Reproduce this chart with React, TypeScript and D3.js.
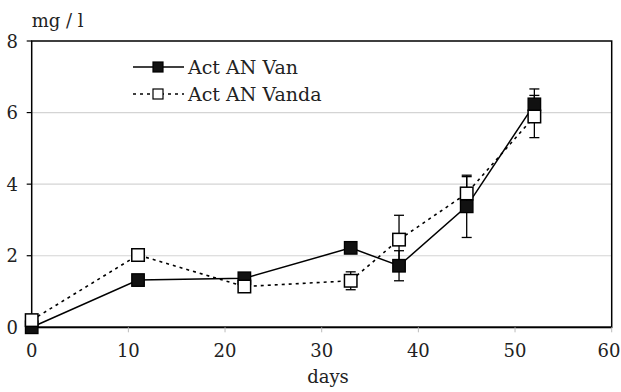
import React from "react";
import * as d3 from "d3";

const days = [0, 11, 22, 33, 38, 45, 52];
const vanValues = [0, 1.32, 1.37, 2.22, 1.72, 3.38, 6.23];
const vanErrors = [0, 0.05, 0.08, 0.12, 0.42, 0.87, 0.43];
const vandaValues = [0.2, 2.02, 1.14, 1.3, 2.45, 3.74, 5.89];
const vandaErrors = [0, 0.1, 0.05, 0.25, 0.68, 0.47, 0.59];
const xTicks = [0, 10, 20, 30, 40, 50, 60];
const yTicks = [0, 2, 4, 6, 8];
const seriesNames = ["Act AN Van", "Act AN Vanda"];

const W = 621;
const H = 392;
const left = 31.7;
const right = 611.7;
const top = 41;
const bottom = 327.3;
const FONT = "DejaVu Serif";
const txt = { fontFamily: FONT, fill: "#222" } as const;

export default function App() {
  const x = d3.scaleLinear().domain([0, 60]).range([left, right]);
  const y = d3.scaleLinear().domain([0, 8]).range([bottom, top]);
  const line = d3
    .line<[number, number]>()
    .x((d) => x(d[0]))
    .y((d) => y(d[1]));
  const vanPts: [number, number][] = days.map((d, i) => [d, vanValues[i]]);
  const vandaPts: [number, number][] = days.map((d, i) => [d, vandaValues[i]]);
  const ms = 12.5;
  const cap = 5;

  const errBars = (vals: number[], errs: number[], key: string) =>
    days.map((d, i) =>
      errs[i] > 0 ? (
        <g key={key + i} stroke="#000" strokeWidth={1.3}>
          <line x1={x(d)} x2={x(d)} y1={y(vals[i] - errs[i])} y2={y(vals[i] + errs[i])} />
          <line x1={x(d) - cap} x2={x(d) + cap} y1={y(vals[i] - errs[i])} y2={y(vals[i] - errs[i])} />
          <line x1={x(d) - cap} x2={x(d) + cap} y1={y(vals[i] + errs[i])} y2={y(vals[i] + errs[i])} />
        </g>
      ) : null
    );

  return (
    <svg width={W} height={H} style={{ position: "absolute", left: 0, top: 0, background: "#fff" }}>
      <rect x={0} y={0} width={W} height={H} fill="#fff" />
      {yTicks
        .filter((t) => t > 0 && t < 8)
        .map((t) => (
          <line key={"g" + t} x1={left} x2={right} y1={y(t)} y2={y(t)} stroke="#d4d4d4" strokeWidth={1.2} />
        ))}
      <rect x={left} y={top} width={right - left} height={bottom - top} fill="none" stroke="#000" strokeWidth={1.5} />
      <line x1={left} x2={right} y1={y(0)} y2={y(0)} stroke="#000" strokeWidth={1.8} />
      {yTicks.map((t) => (
        <g key={"yt" + t}>
          <line x1={left - 5} x2={left} y1={y(t)} y2={y(t)} stroke="#000" strokeWidth={1.2} />
          <text x={18} y={y(t) + 6.5} textAnchor="end" fontSize={18} style={txt}>
            {t}
          </text>
        </g>
      ))}
      {xTicks.map((t) => (
        <g key={"xt" + t}>
          <line x1={x(t)} x2={x(t)} y1={bottom} y2={bottom + 5} stroke="#bbb" strokeWidth={1} />
          <text x={Math.min(x(t), 609)} y={357} textAnchor="middle" fontSize={18} style={txt}>
            {t}
          </text>
        </g>
      ))}
      <text x={left} y={27} fontSize={18} style={txt}>
        mg / l
      </text>
      <text x={328} y={383} textAnchor="middle" fontSize={18} style={txt}>
        days
      </text>
      <path d={line(vanPts) || ""} fill="none" stroke="#000" strokeWidth={1.5} />
      <path d={line(vandaPts) || ""} fill="none" stroke="#000" strokeWidth={1.6} strokeDasharray="3,4" />
      {errBars(vanValues, vanErrors, "ve")}
      {errBars(vandaValues, vandaErrors, "vd")}
      {vanPts.map((p, i) => (
        <rect key={"vm" + i} x={x(p[0]) - ms / 2} y={y(p[1]) - ms / 2} width={ms} height={ms} fill="#111" stroke="#000" strokeWidth={1.3} />
      ))}
      {vandaPts.map((p, i) => (
        <rect key={"dm" + i} x={x(p[0]) - ms / 2} y={y(p[1]) - ms / 2} width={ms} height={ms} fill="#fff" stroke="#000" strokeWidth={1.5} />
      ))}
      <line x1={133} x2={184} y1={67} y2={67} stroke="#000" strokeWidth={1.5} />
      <rect x={153} y={62} width={10} height={10} fill="#111" stroke="#000" strokeWidth={1.2} />
      <text x={188} y={74} fontSize={19} style={txt}>
        {seriesNames[0]}
      </text>
      <line x1={133} x2={184} y1={94} y2={94} stroke="#000" strokeWidth={1.5} strokeDasharray="3,4" />
      <rect x={153} y={89} width={10} height={10} fill="#fff" stroke="#000" strokeWidth={1.2} />
      <text x={188} y={101} fontSize={19} style={txt}>
        {seriesNames[1]}
      </text>
    </svg>
  );
}
